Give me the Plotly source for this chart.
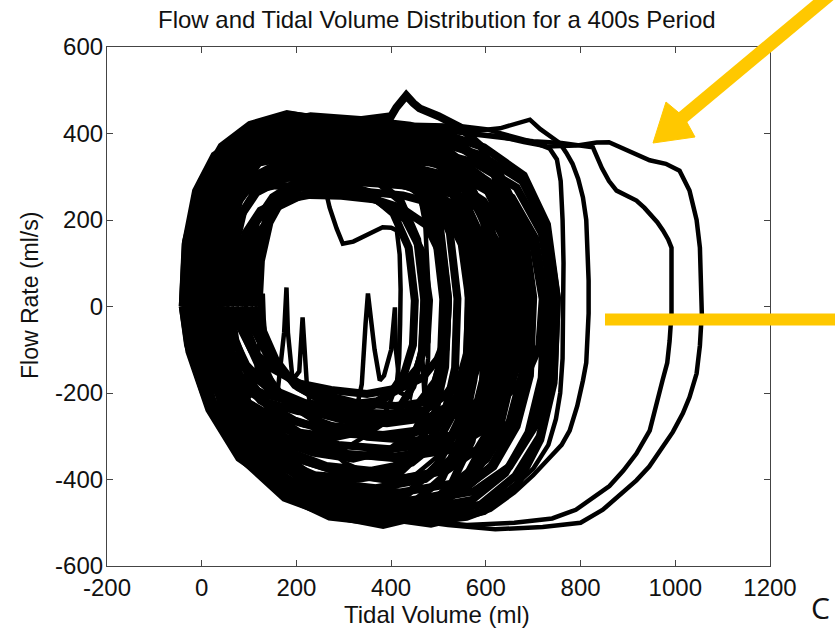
import plotly.graph_objects as go

# ---- axis ticks ----
x_ticks = [-200, 0, 200, 400, 600, 800, 1000, 1200]
y_ticks = [-600, -400, -200, 0, 200, 400, 600]

# ---- breath loops: tidal volume (ml) and flow (ml/s) ----
v_m1 = [-40,-33,-5,44,114,205,310,415,506,590,639,660,653,625,576,506,394,275,170,79,16,-26,-40]
f_m1 = [0,150,270,360,405,418,415,396,372,300,185,20,-170,-300,-390,-460,-478,-470,-420,-350,-238,-104,0]
v_m2 = [-30,-24,0,42,102,180,270,360,438,510,552,570,564,540,498,438,342,240,150,72,18,-18,-30]
f_m2 = [0,150,290,370,420,445,428,420,385,320,195,20,-155,-282,-365,-430,-455,-435,-398,-320,-228,-96,0]
v_m3 = [-20,-14,13,58,123,208,305,403,487,565,611,630,624,598,552,487,383,273,175,91,32,-7,-20]
f_m3 = [0,142,262,338,384,398,395,378,355,285,182,18,-172,-312,-408,-478,-505,-482,-442,-358,-252,-108,0]
v_m4 = [-10,-5,18,56,111,183,265,348,419,485,524,540,535,513,474,419,331,238,155,84,34,1,-10]
f_m4 = [0,135,245,325,360,383,370,364,332,276,170,18,-142,-250,-326,-383,-398,-390,-350,-290,-198,-90,0]
v_m5 = [0,7,35,84,154,245,350,455,546,630,679,700,693,665,616,546,434,315,210,119,56,14,0]
f_m5 = [0,145,275,355,400,422,410,400,368,304,188,22,-160,-277,-370,-426,-452,-438,-394,-326,-223,-100,0]
v_m6 = [10,15,35,70,120,185,260,335,400,460,495,510,505,485,450,400,320,235,160,95,50,20,10]
f_m6 = [0,128,232,308,340,362,350,344,315,260,160,17,-125,-215,-290,-330,-352,-338,-310,-250,-177,-75,0]
v_m7 = [20,27,57,108,181,276,385,495,589,677,728,750,743,714,662,589,473,349,239,144,78,35,20]
f_m7 = [0,138,258,342,378,402,390,382,350,290,178,20,-166,-300,-392,-458,-482,-464,-424,-344,-242,-104,0]
v_m8 = [-30,-25,-5,30,80,145,220,295,360,420,455,470,465,445,410,360,280,195,120,55,10,-20,-30]
f_m8 = [0,120,220,290,325,338,335,320,300,244,155,15,-107,-185,-248,-284,-302,-290,-266,-214,-152,-64,0]
v_m9 = [30,36,60,102,162,240,330,420,498,570,612,630,624,600,558,498,402,300,210,132,78,42,30]
f_m9 = [0,132,248,322,362,378,373,360,335,272,172,20,-138,-250,-326,-382,-402,-386,-354,-286,-202,-86,0]
v_m10 = [40,47,73,118,183,268,365,463,547,625,671,690,684,658,612,547,443,333,235,151,92,53,40]
f_m10 = [0,125,235,305,343,358,355,340,318,258,163,18,-157,-280,-368,-430,-448,-438,-395,-325,-224,-98,0]
v_m11 = [60,66,88,126,181,253,335,418,489,555,594,610,605,583,544,489,401,308,225,154,104,71,60]
f_m11 = [0,118,222,288,324,342,332,324,298,246,152,16,-122,-218,-286,-334,-348,-342,-306,-253,-174,-78,0]
v_m12 = [90,95,115,150,200,265,340,415,480,540,575,590,585,565,530,480,400,315,240,175,130,100,90]
f_m12 = [0,104,196,253,287,298,295,283,266,214,137,14,-104,-187,-245,-286,-298,-292,-263,-217,-149,-67,0]
v_m13 = [120,125,143,174,219,278,345,413,471,525,557,570,566,548,516,471,399,323,255,197,156,129,120]
f_m13 = [0,106,194,256,284,301,293,286,263,217,134,16,-86,-157,-203,-240,-248,-245,-218,-182,-123,-56,0]
v_m14 = [0,5,23,54,99,158,225,293,351,405,437,450,446,428,396,351,279,203,135,77,36,9,0]
f_m14 = [0,103,197,254,286,299,296,284,265,215,136,14,-89,-154,-206,-236,-252,-242,-221,-179,-126,-54,0]
v_m15 = [-20,-14,10,52,112,190,280,370,448,520,562,580,574,550,508,448,352,250,160,82,28,-8,-20]
f_m15 = [0,156,284,376,416,442,430,420,385,318,196,23,-170,-296,-396,-454,-483,-464,-424,-344,-242,-105,0]
v_m16 = [50,57,85,134,204,295,400,505,596,680,729,750,743,715,666,596,484,365,260,169,106,64,50]
f_m16 = [0,146,272,358,398,423,410,401,368,303,190,20,-176,-308,-412,-473,-502,-484,-442,-358,-252,-108,0]
v_m17 = [-10,-3,28,80,155,253,365,478,575,665,718,740,733,703,650,575,455,328,215,118,50,5,-10]
f_m17 = [0,134,246,324,360,382,371,362,333,275,170,19,-159,-278,-370,-427,-451,-436,-397,-323,-226,-98,0]
v_m18 = [70,75,93,124,169,228,295,363,421,475,507,520,516,498,466,421,349,273,205,147,106,79,70]
f_m18 = [0,92,170,222,246,258,256,248,228,188,115,12,-72,-122,-165,-188,-202,-193,-178,-142,-101,-43,0]
v_m19 = [10,17,43,88,153,238,335,433,517,595,641,660,654,628,582,517,413,303,205,121,62,23,10]
f_m19 = [0,120,220,290,322,341,334,322,300,244,154,16,-141,-247,-330,-379,-401,-387,-353,-287,-201,-87,0]
v_m20 = [-25,-18,10,59,129,220,325,430,521,605,654,675,668,640,591,521,409,290,185,94,31,-11,-25]
f_m20 = [0,141,259,341,379,401,391,381,351,289,179,21,-124,-216,-288,-332,-351,-339,-309,-251,-176,-76,0]
v_m21 = [30,36,58,96,151,223,305,388,459,525,564,580,575,553,514,459,371,278,195,124,74,41,30]
f_m21 = [0,148,272,356,400,419,413,398,371,301,190,20,-104,-187,-245,-286,-299,-292,-263,-217,-149,-67,0]
v_m22 = [0,6,30,72,132,210,300,390,468,540,582,600,594,570,528,468,372,270,180,102,48,12,0]
f_m22 = [0,127,233,307,341,361,352,343,316,260,161,18,-174,-311,-409,-476,-498,-486,-439,-361,-249,-111,0]
v_m23 = [-35,-29,-3,43,108,193,290,388,472,550,596,615,609,583,537,472,368,258,160,76,17,-22,-35]
f_m23 = [0,150,280,366,409,430,421,409,378,310,194,22,-147,-260,-344,-399,-420,-407,-370,-302,-210,-92,0]
v_m24 = [15,21,43,81,136,208,290,373,444,510,549,565,559,537,499,444,356,263,180,109,59,26,15]
f_m24 = [0,112,208,272,304,320,314,304,282,230,144,16,-133,-236,-312,-361,-380,-369,-334,-274,-190,-84,0]
v_m25 = [-15,-8,20,69,139,230,335,440,531,615,664,685,678,650,601,531,419,300,195,104,41,-1,-15]
f_m25 = [0,154,286,374,418,440,431,418,387,317,198,22,-151,-267,-353,-409,-430,-417,-378,-310,-215,-95,0]
v_m26 = [25,32,60,109,179,270,375,480,571,655,704,725,718,690,641,571,459,340,235,144,81,39,25]
f_m26 = [0,123,228,298,333,350,343,333,308,252,158,18,-165,-291,-385,-447,-470,-456,-414,-338,-235,-103,0]
v_m27 = [100,105,125,160,210,275,350,425,490,550,585,600,595,575,540,490,410,325,250,185,140,110,100]
f_m27 = [0,95,176,230,257,270,265,257,238,194,122,14,-81,-143,-189,-219,-230,-223,-202,-166,-115,-51,0]
v_m28 = [-40,-34,-12,27,83,156,240,324,397,464,503,520,514,492,453,397,307,212,128,55,5,-29,-40]
f_m28 = [0,144,267,349,390,410,402,390,361,295,185,21,-140,-248,-328,-380,-400,-388,-352,-288,-200,-88,0]
v_m29 = [-20,-15,5,40,90,155,230,305,370,430,465,480,475,455,420,370,290,205,130,65,20,-10,-20]
f_m29 = [0,98,182,238,266,280,274,266,246,202,126,14,-81,-143,-189,-219,-230,-223,-202,-166,-115,-51,0]
v_m30 = [50,56,78,116,171,243,325,408,479,545,584,600,595,573,534,479,391,298,215,144,94,61,50]
f_m30 = [0,109,202,264,295,310,304,295,273,223,140,16,-95,-167,-221,-257,-270,-262,-238,-194,-135,-59,0]
v_m31 = [-5,2,28,73,138,223,320,418,502,580,626,645,639,613,567,502,398,288,190,106,47,8,-5]
f_m31 = [0,112,208,272,304,320,314,304,282,230,144,16,-116,-205,-271,-314,-330,-320,-290,-238,-165,-73,0]
v_m32 = [80,86,110,152,212,290,380,470,548,620,662,680,674,650,608,548,452,350,260,182,128,92,80]
f_m32 = [0,102,189,247,276,290,284,276,255,209,131,15,-109,-192,-254,-295,-310,-301,-273,-223,-155,-68,0]
v_m33 = [20,27,55,104,174,265,370,475,566,650,699,720,713,685,636,566,454,335,230,139,76,34,20]
f_m33 = [0,116,215,281,314,330,323,314,290,238,149,17,-91,-161,-213,-247,-260,-252,-229,-187,-130,-57,0]
v_m34 = [110,116,138,176,231,303,385,468,539,605,644,660,655,633,594,539,451,358,275,204,154,121,110]
f_m34 = [0,112,208,272,304,320,314,304,282,230,144,16,-91,-161,-213,-247,-260,-252,-229,-187,-130,-57,0]
v_m35 = [-30,-25,-3,36,91,163,245,328,399,465,504,520,515,493,454,399,311,218,135,64,14,-19,-30]
f_m35 = [0,126,234,306,342,360,353,342,317,259,162,18,-98,-174,-230,-266,-280,-272,-246,-202,-140,-62,0]

v_s1 = [20,27,55,100,160,220,255,270,285,298,320,340,362,382,400,412,418,420,419,417,412,395,360,300,220,150,90,50,25,20]
f_s1 = [0,140,250,320,345,330,300,229,180,145,150,160,172,183,182,176,120,40,-40,-120,-178,-230,-290,-330,-330,-300,-240,-160,-60,0]
v_s2 = [-10,-3,25,75,145,230,330,400,411,432,447,460,500,545,590,620,635,640,636,615,575,510,400,290,190,110,50,5,-10]
f_s2 = [0,150,275,360,405,425,430,440,460,488,470,458,440,415,370,300,190,20,-160,-290,-380,-450,-480,-465,-420,-340,-235,-100,0]
v_s3 = [10,16,40,80,140,220,300,370,420,455,472,480,478,470,466,467,462,440,420,410,408,400,385,376,365,355,351,346,338,320,260,180,110,60,25,10]
f_s3 = [0,135,250,325,365,380,375,365,340,290,190,20,-120,-200,-120,21,-100,-210,-200,-100,-2,-100,-160,-171,-100,-20,30,-40,-180,-270,-320,-300,-260,-200,-100,0]
v_s4 = [40,47,72,115,180,265,355,430,490,535,553,560,557,540,505,450,380,300,240,222,213,206,192,182,179,174,160,140,131,129,124,110,85,60,45,40]
f_s4 = [0,140,260,340,380,400,398,385,360,300,190,20,-140,-260,-340,-390,-400,-360,-300,-180,-25,-150,-170,-60,44,-60,-200,-150,-30,30,-60,-200,-220,-150,-70,0]

v_a = [10,17,45,95,170,270,380,480,560,620,680,730,790,834,860,900,946,980,1009,1030,1045,1052,1056,1056,1052,1045,1030,1016,995,973,945,918,880,847,800,720,620,520,420,310,210,130,70,30,10]
f_a = [0,150,275,355,395,415,420,410,400,395,380,370,372,379,380,360,338,330,314,268,200,136,40,-16,-90,-155,-210,-247,-290,-326,-370,-402,-440,-470,-500,-510,-515,-505,-490,-465,-425,-360,-260,-130,0]
v_b = [15,22,50,100,175,275,385,490,570,640,700,760,800,826,845,860,876,900,918,935,946,962,974,985,992,993,992,988,983,973,960,946,918,890,861,830,790,740,660,560,460,350,240,150,80,35,15]
f_b = [0,150,270,350,392,412,418,410,398,388,382,378,372,368,320,290,268,255,245,228,215,195,176,155,136,60,-16,-80,-130,-171,-230,-287,-340,-380,-415,-440,-470,-490,-500,-505,-495,-475,-435,-370,-270,-130,0]
v_c = [25,32,60,110,185,285,390,490,570,630,670,693,715,740,756,770,783,795,805,812,815,817,817,815,812,805,793,777,760,735,700,660,610,560,480,380,280,190,115,60,30,25]
f_c = [0,150,270,350,395,420,425,415,405,412,425,432,410,390,378,355,330,295,252,200,136,60,-16,-90,-130,-171,-230,-287,-320,-349,-390,-430,-470,-490,-500,-495,-470,-425,-350,-250,-120,0]
v_d = [5,12,40,90,165,260,370,470,540,600,650,700,735,750,758,762,764,764,762,757,748,732,700,660,600,520,430,330,230,145,80,35,5]
f_d = [0,150,270,350,392,415,422,420,418,410,395,380,365,340,290,200,100,-16,-120,-200,-260,-320,-375,-415,-455,-485,-495,-480,-440,-375,-280,-150,0]

main_loops = [
    (v_m1, f_m1), (v_m2, f_m2), (v_m3, f_m3), (v_m4, f_m4), (v_m5, f_m5),
    (v_m6, f_m6), (v_m7, f_m7), (v_m8, f_m8), (v_m9, f_m9), (v_m10, f_m10),
    (v_m11, f_m11), (v_m12, f_m12), (v_m13, f_m13), (v_m14, f_m14), (v_m15, f_m15),
    (v_m16, f_m16), (v_m17, f_m17), (v_m18, f_m18), (v_m19, f_m19), (v_m20, f_m20),
    (v_m21, f_m21), (v_m22, f_m22), (v_m23, f_m23), (v_m24, f_m24), (v_m25, f_m25),
    (v_m26, f_m26), (v_m27, f_m27), (v_m28, f_m28), (v_m29, f_m29), (v_m30, f_m30),
    (v_m31, f_m31), (v_m32, f_m32), (v_m33, f_m33), (v_m34, f_m34), (v_m35, f_m35),
    (v_s2, f_s2),
]
thin_loops = [(v_s1, f_s1), (v_s3, f_s3), (v_s4, f_s4),
              (v_a, f_a), (v_b, f_b), (v_c, f_c), (v_d, f_d)]

FONT = "Liberation Sans, Arial, sans-serif"
YELLOW = "#FFC800"

fig = go.Figure()
for vx, fy in main_loops:
    fig.add_trace(go.Scatter(
        x=vx, y=fy, mode="lines",
        line=dict(color="black", width=8),
        hoverinfo="skip", showlegend=False,
    ))
for vx, fy in thin_loops:
    fig.add_trace(go.Scatter(
        x=vx, y=fy, mode="lines",
        line=dict(color="black", width=4.5),
        hoverinfo="skip", showlegend=False,
    ))

# plot-area geometry in pixels (for paper-coordinate decorations)
W, H = 835, 637
ML, MR, MT, MB = 107, 65, 47, 71
PW, PH = W - ML - MR, H - MT - MB


def px(x):
    return (x - ML) / PW


def py(y):
    return (H - MB - y) / PH


axis_common = dict(
    showgrid=False, zeroline=False, showline=True, linecolor="#444", linewidth=1.2,
    mirror="ticks", ticks="inside", ticklen=6, tickcolor="#444", tickwidth=1.2,
    tickfont=dict(family=FONT, size=24, color="#111"),
)

fig.update_layout(
    width=W, height=H,
    margin=dict(l=ML, r=MR, t=MT, b=MB),
    paper_bgcolor="white", plot_bgcolor="white",
    xaxis=dict(range=[-200, 1200], tickvals=x_ticks, ticktext=[str(t) for t in x_ticks],
               ticklabelstandoff=0, **axis_common),
    yaxis=dict(range=[-600, 600], tickvals=y_ticks, ticktext=[str(t) for t in y_ticks],
               ticklabelstandoff=-2, **axis_common),
    shapes=[
        dict(type="line", xref="paper", yref="paper",
             x0=px(605), y0=py(319.5), x1=px(845), y1=py(319.5),
             line=dict(color=YELLOW, width=12), layer="above"),
        dict(type="line", xref="paper", yref="paper",
             x0=px(845), y0=py(-18), x1=px(682), y1=py(118),
             line=dict(color=YELLOW, width=13), layer="above"),
        dict(type="path", xref="paper", yref="paper",
             path=f"M{px(653)},{py(143)} L{px(695)},{py(137)} L{px(684)},{py(117)} L{px(666)},{py(102)} Z",
             fillcolor=YELLOW, line=dict(color=YELLOW, width=1), layer="above"),
    ],
    annotations=[
        dict(text="Flow and Tidal Volume Distribution for a 400s Period", xref="paper", yref="paper",
             x=px(437), y=py(20), xanchor="center", yanchor="middle", showarrow=False,
             font=dict(family=FONT, size=24, color="#111")),
        dict(text="Tidal Volume (ml)", xref="paper", yref="paper",
             x=px(437), y=py(614), xanchor="center", yanchor="middle", showarrow=False,
             font=dict(family=FONT, size=24, color="#111")),
        dict(text="Flow Rate (ml/s)", xref="paper", yref="paper", textangle=-90,
             x=px(30), y=py(296), xanchor="center", yanchor="middle", showarrow=False,
             font=dict(family=FONT, size=23, color="#111")),
        dict(text="C", xref="paper", yref="paper",
             x=px(820), y=py(607), xanchor="center", yanchor="middle", showarrow=False,
             font=dict(family="Open Sans, sans-serif", size=30, color="#111")),
    ],
)

fig.write_html("out.html", config={"displayModeBar": False},
               post_script="document.body.style.margin='0px';")
